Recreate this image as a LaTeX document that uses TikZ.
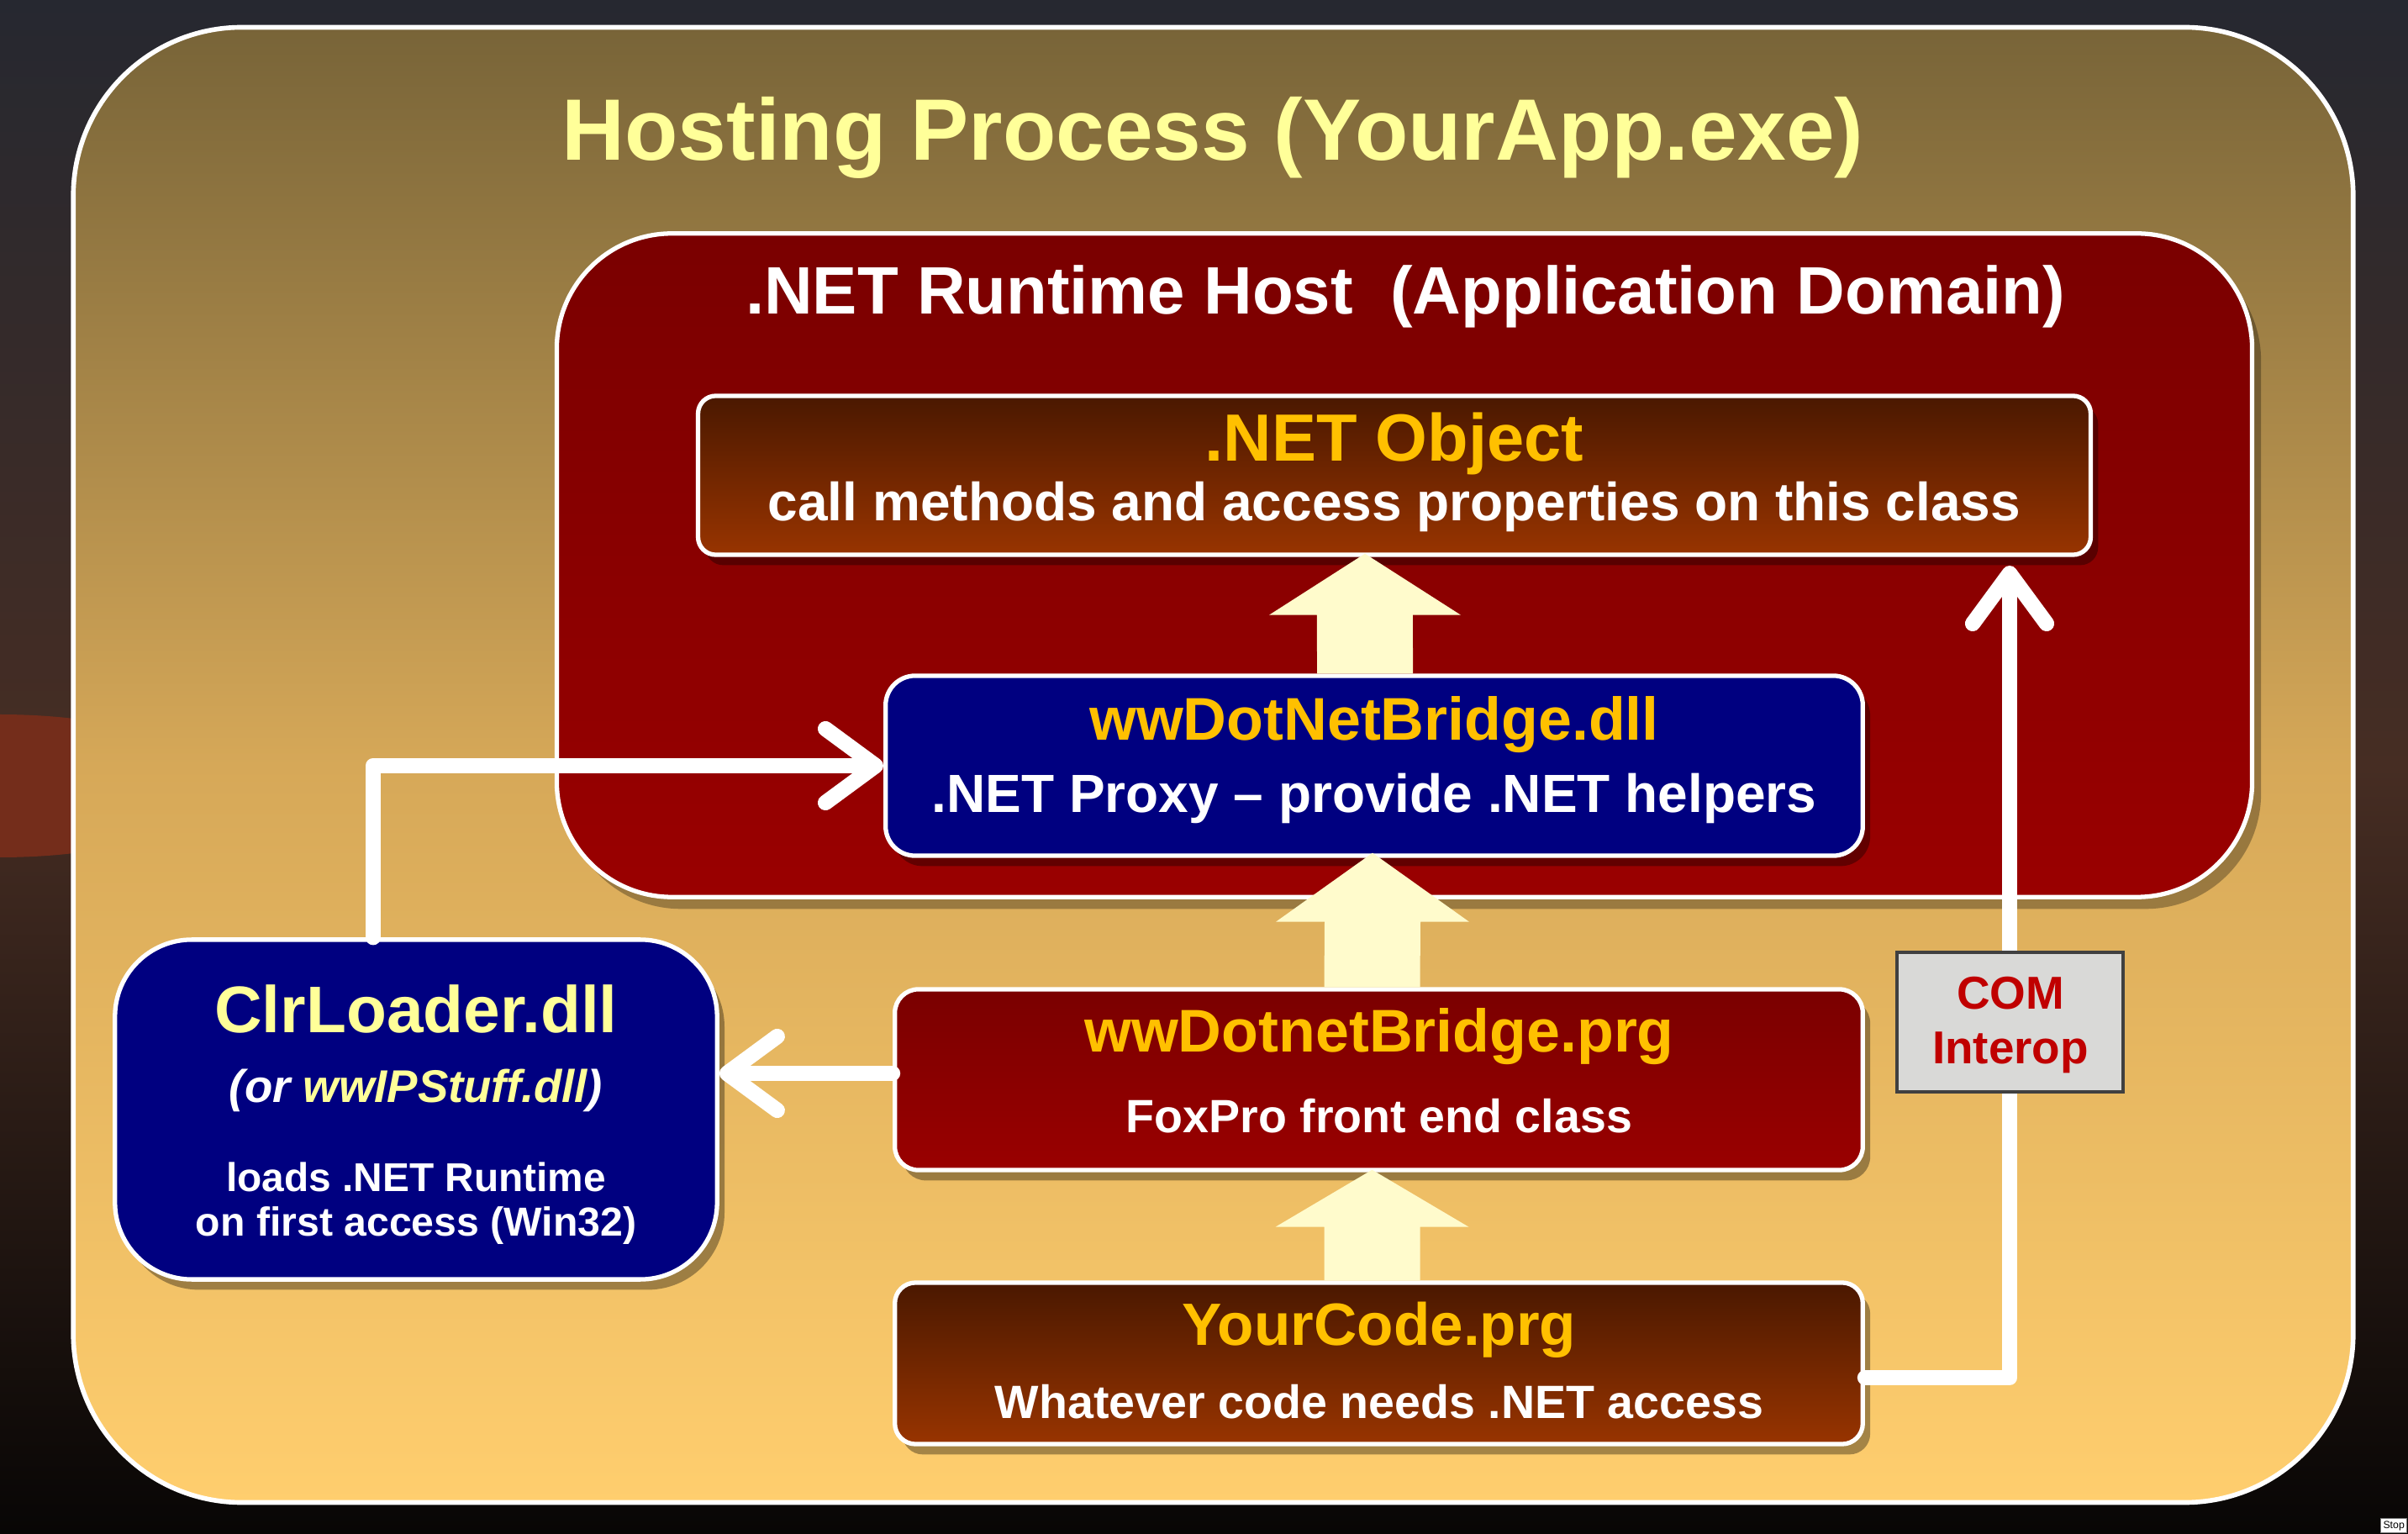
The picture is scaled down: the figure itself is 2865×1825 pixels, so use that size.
\documentclass[tikz,border=0pt]{standalone}
\usepackage{fontspec}
\setmainfont{Liberation Sans}
\usetikzlibrary{arrows.meta,calc,shadows}
\definecolor{bgtop}{RGB}{38,40,48}
\definecolor{bgmid}{RGB}{70,45,35}
\definecolor{bgbot}{RGB}{8,6,5}
\definecolor{suncol}{RGB}{116,45,27}
\definecolor{outtop}{RGB}{120,100,56}
\definecolor{outmid}{RGB}{214,168,88}
\definecolor{outbot}{RGB}{255,206,110}
\definecolor{redtop}{RGB}{122,0,0}
\definecolor{redbot}{RGB}{154,0,0}
\definecolor{browntop}{RGB}{74,24,0}
\definecolor{brownbot}{RGB}{152,52,0}
\definecolor{navy}{RGB}{0,0,128}
\definecolor{lightyel}{RGB}{255,255,153}
\definecolor{orangetxt}{RGB}{255,192,0}
\definecolor{blockcol}{RGB}{255,251,204}
\definecolor{comgray}{RGB}{217,217,215}
\definecolor{comred}{RGB}{192,0,0}
\begin{document}
\begin{tikzpicture}[x=0.01cm,y=-0.01cm,
  whiteedge/.style={draw=white,line width=1.5pt},
  boxshadow/.style={drop shadow={shadow xshift=2.5pt,shadow yshift=-3.5pt,opacity=0.35,fill=black}},
  redgrad/.style={whiteedge,top color=redtop,bottom color=redbot,rounded corners=8pt,boxshadow},
  browngrad/.style={whiteedge,top color=browntop,bottom color=brownbot,rounded corners=7pt,boxshadow},
  navybox/.style={whiteedge,fill=navy,boxshadow},
  txt/.style={inner sep=0pt,font=\bfseries},
  conn/.style={draw=white,line width=5.2pt,line cap=round,line join=round},
  chevron/.style={-{Straight Barb[length=17pt,width=25pt,line width=5.2pt,round]}},
  blockfill/.style={fill=blockcol}
]
\useasboundingbox (0,0) rectangle (2865,1825);
% background scene
\fill[top color=bgtop,bottom color=bgbot,middle color=bgmid] (0,0) rectangle (2865,1825);
\fill[suncol] (0,935) ellipse (260 and 85);
% outer hosting process box
\node[draw=white,line width=1.6pt,top color=outtop,bottom color=outbot,middle color=outmid,
      rounded corners=57pt,minimum width=27.11cm,minimum height=17.54cm,inner sep=0pt] (outer) at (1443.5,910) {};
\node[txt,text=lightyel,font=\bfseries\fontsize{29.5pt}{35pt}\selectfont] (title) at (1443,164) {Hosting Process (YourApp.exe)};
% .NET runtime host
\node[whiteedge,top color=redtop,bottom color=redbot,rounded corners=39pt,
      minimum width=20.16cm,minimum height=7.89cm,inner sep=0pt,
      drop shadow={shadow xshift=3pt,shadow yshift=-4pt,opacity=0.3,fill=black}] (host) at (1671,672.5) {};
\node[txt,text=white,font=\bfseries\fontsize{22.7pt}{27pt}\selectfont] (hosttitle) at (1672,353) {.NET Runtime Host\ \ (Application Domain)};
% .NET object
\node[browngrad,rounded corners=6pt,minimum width=16.56cm,minimum height=1.89cm,inner sep=0pt] (netobj) at (1659,565.5) {};
\node[txt,text=orangetxt,font=\bfseries\fontsize{22.6pt}{27pt}\selectfont] (netobjA) at (1659,528) {.NET Object};
\node[txt,text=white,font=\bfseries\fontsize{18.2pt}{22pt}\selectfont] (netobjB) at (1659,603) {call methods and access properties on this class};
% wwDotNetBridge.dll
\node[navybox,rounded corners=10pt,minimum width=11.62cm,minimum height=2.14cm,inner sep=0pt] (dll) at (1635,911) {};
\node[txt,text=orangetxt,font=\bfseries\fontsize{20.4pt}{25pt}\selectfont] (dllA) at (1635,862) {wwDotNetBridge.dll};
\node[txt,text=white,font=\bfseries\fontsize{18.2pt}{22pt}\selectfont] (dllB) at (1635,950) {.NET Proxy – provide .NET helpers};
% wwDotnetBridge.prg
\node[redgrad,minimum width=11.51cm,minimum height=2.15cm,inner sep=0pt] (prg) at (1640.5,1284.5) {};
\node[txt,text=orangetxt,font=\bfseries\fontsize{20.4pt}{25pt}\selectfont] (prgA) at (1641,1233) {wwDotnetBridge.prg};
\node[txt,text=white,font=\bfseries\fontsize{15.8pt}{19pt}\selectfont] (prgB) at (1641,1328) {FoxPro front end class};
% YourCode.prg
\node[browngrad,minimum width=11.51cm,minimum height=1.92cm,inner sep=0pt] (your) at (1640.5,1622) {};
\node[txt,text=orangetxt,font=\bfseries\fontsize{20.2pt}{25pt}\selectfont] (yourA) at (1641,1582) {YourCode.prg};
\node[txt,text=white,font=\bfseries\fontsize{15.8pt}{19pt}\selectfont] (yourB) at (1641,1668) {Whatever code needs .NET access};
% ClrLoader.dll
\node[navybox,rounded corners=26pt,minimum width=7.16cm,minimum height=4.04cm,inner sep=0pt] (clr) at (495,1320) {};
\node[txt,text=lightyel,font=\bfseries\fontsize{22.3pt}{27pt}\selectfont] (clrA) at (495,1200) {ClrLoader.dll};
\node[txt,text=white,font=\bfseries\itshape\fontsize{15.5pt}{19pt}\selectfont] (clrB) at (495,1297) {(or \textcolor{lightyel}{wwIPStuff.dll})};
\node[txt,text=white,font=\bfseries\fontsize{13.6pt}{17pt}\selectfont] (clrC) at (495,1400) {loads .NET Runtime};
\node[txt,text=white,font=\bfseries\fontsize{13.7pt}{17pt}\selectfont] (clrD) at (495,1458) {on first access (Win32)};
% block arrows
\coordinate (a1b) at ([xshift=-0.11cm]dll.north);
\coordinate (a1t) at ([xshift=-0.35cm,yshift=0.04cm]netobj.south);
\fill[blockfill] ($(a1b)+(-57,0)$) -- ($(a1t)+(-57,73)$) -- ($(a1t)+(-114,73)$) -- (a1t)
   -- ($(a1t)+(114,73)$) -- ($(a1t)+(57,73)$) -- ($(a1b)+(57,0)$) -- cycle;
\coordinate (a2b) at ([xshift=-0.08cm]prg.north);
\coordinate (a2t) at ([xshift=-0.02cm,yshift=0.06cm]dll.south);
\fill[blockfill] ($(a2b)+(-57,0)$) -- ($(a2t)+(-57,82)$) -- ($(a2t)+(-115,82)$) -- (a2t)
   -- ($(a2t)+(115,82)$) -- ($(a2t)+(57,82)$) -- ($(a2b)+(57,0)$) -- cycle;
\coordinate (a3b) at ([xshift=-0.08cm]your.north);
\coordinate (a3t) at ([xshift=-0.08cm,yshift=0.03cm]prg.south);
\fill[blockfill] ($(a3b)+(-57,0)$) -- ($(a3t)+(-57,68)$) -- ($(a3t)+(-115,68)$) -- (a3t)
   -- ($(a3t)+(115,68)$) -- ($(a3t)+(57,68)$) -- ($(a3b)+(57,0)$) -- cycle;
% connectors
\draw[conn,chevron] ([xshift=-0.51cm]clr.north) |- (dll.west);
\draw[conn,chevron] (prg.west |- 0,1277) -- (clr.east |- 0,1277);
\coordinate (comtip) at (2391,673);
\draw[conn,chevron] ($(your.east)+(0,17)$) -| (comtip);
% COM interop label box
\node[draw={rgb,255:red,64;green,64;blue,64},line width=1.2pt,fill=comgray,
      minimum width=2.69cm,minimum height=1.66cm,inner sep=0pt] (com) at (2391.5,1216) {};
\node[txt,text=comred,font=\bfseries\fontsize{15.6pt}{19pt}\selectfont] (comA) at (2392,1182) {COM};
\node[txt,text=comred,font=\bfseries\fontsize{15.6pt}{19pt}\selectfont] (comB) at (2392,1252) {Interop};
% tooltip fragment
\node[draw={rgb,255:red,120;green,120;blue,120},fill=white,inner sep=0.8pt,anchor=north west,
      font=\fontsize{3.5pt}{4pt}\selectfont] (stop) at (2832,1806) {Stop};
\end{tikzpicture}
\end{document}
